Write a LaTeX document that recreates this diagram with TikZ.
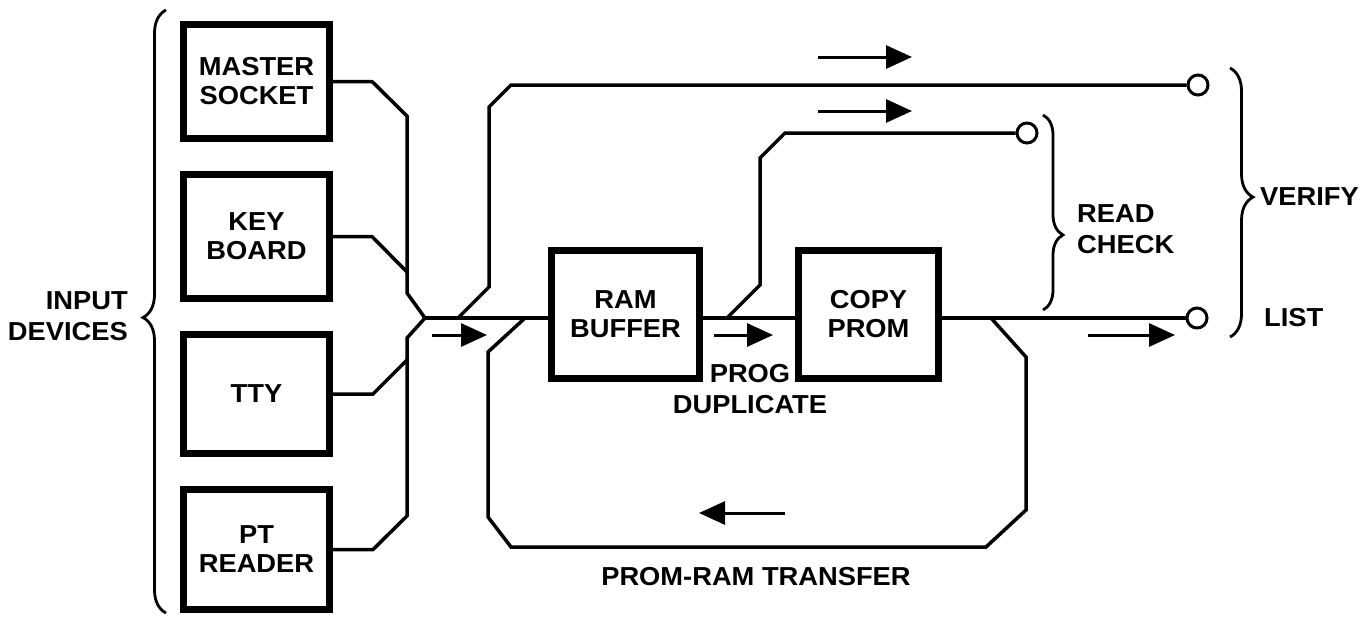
\documentclass[tikz,border=0pt]{standalone}
\usepackage{fontspec}
\setmainfont{Liberation Sans}[FakeStretch=1.05]
\usetikzlibrary{arrows.meta,decorations.pathreplacing}
\begin{document}
\begin{tikzpicture}[x=1pt,y=-1pt]
\tikzset{
 dev/.style={draw, line width=7pt, minimum width=146pt, inner sep=0pt, align=center, font=\bfseries\fontsize{26}{29}\selectfont},
 wire/.style={line width=3.5pt, line join=miter},
 flow/.style={line width=3pt, -{Triangle[length=26pt,width=23pt]}},
 term/.style={circle, draw, line width=3pt, minimum size=20pt, inner sep=0pt, fill=white},
 lbl/.style={font=\bfseries\fontsize{26}{31}\selectfont, inner sep=0pt},
 brc/.style={decorate, line width=2.8pt}
}
\useasboundingbox (0,0) rectangle (1364,616);
% devices
\node[dev, minimum height=114pt] (ms) at (256.5,81.5) {MASTER\\SOCKET};
\node[dev, minimum height=124pt] (kb) at (256.5,236.5) {KEY\\BOARD};
\node[dev, minimum height=119pt] (tty) at (256.5,394) {TTY};
\node[dev, minimum height=120pt] (pt) at (256.5,549.5) {PT\\READER};
\node[dev, minimum width=148pt, minimum height=128pt] (ram) at (625.5,314.5) {RAM\\BUFFER};
\node[dev, minimum width=140pt, minimum height=128pt] (cp) at (868.5,314.5) {COPY\\PROM};
% terminals
\node[term] (cv) at (1198,85) {};
\node[term] (cr) at (1027,133) {};
\node[term] (cl) at (1197,318) {};
% junctions
\coordinate (m) at (425,318);
\coordinate (vb) at (458,318);
\coordinate (rb) at (727,318);
\coordinate (lb) at (525,318);
\coordinate (le) at (991,318);
% input wires
\draw[wire] (ms.east) -- (372,81.5) -- (407,116) -- (407,293) -- (m);
\draw[wire] (kb.east) -- (372,236.5) -- (407,272);
\draw[wire] (tty.east) -- (373,394) -- (407,360);
\draw[wire] (pt.east) -- (373,549.5) -- (407,516) -- (407,338) -- (m);
% main line
\draw[wire] (m) -- (m -| ram.west);
\draw[wire] (ram.east |- m) -- (cp.west |- m);
\draw[wire] (cp.east |- m) -- (cl);
% verify path
\draw[wire] (vb) -- (489,287) -- (489,107) -- (511,85) -- (cv);
% read check path
\draw[wire] (rb) -- (760,285) -- (760,158) -- (785,133) -- (cr);
% prom-ram transfer loop
\draw[wire] (lb) -- (488,352) -- (488,517) -- (511,547) -- (986,547) -- (1026,510) -- (1026,357) -- (le);
% flow arrows
\draw[flow] (818,57) -- (912,57);
\draw[flow] (818,111) -- (912,111);
\draw[flow] (432,335) -- (487,335);
\draw[flow] (714,335) -- (773,335);
\draw[flow] (1088,335) -- (1175,335);
\draw[flow] (785,513) -- (699,513);
% braces
\draw[brc, decoration={brace, amplitude=23pt, aspect=0.49}] (166,613) -- (166,10);
\draw[brc, decoration={brace, amplitude=20pt, aspect=0.615}] (1043,115) -- (1043,310);
\draw[brc, decoration={brace, amplitude=23pt, aspect=0.48}] (1230,68) -- (1230,337);
% labels
\node[lbl, anchor=east, align=right] (inp) at (128,316) {INPUT\\DEVICES};
\node[lbl, anchor=west] (ver) at (1260,197) {VERIFY};
\node[lbl, anchor=west, align=left] (rc) at (1077,229) {READ\\CHECK};
\node[lbl, anchor=west] (lst) at (1264,318) {LIST};
\node[lbl, align=center] (pd) at (750,389) {PROG\\DUPLICATE};
\node[lbl] (prt) at (756,577) {PROM-RAM TRANSFER};
\end{tikzpicture}
\end{document}
